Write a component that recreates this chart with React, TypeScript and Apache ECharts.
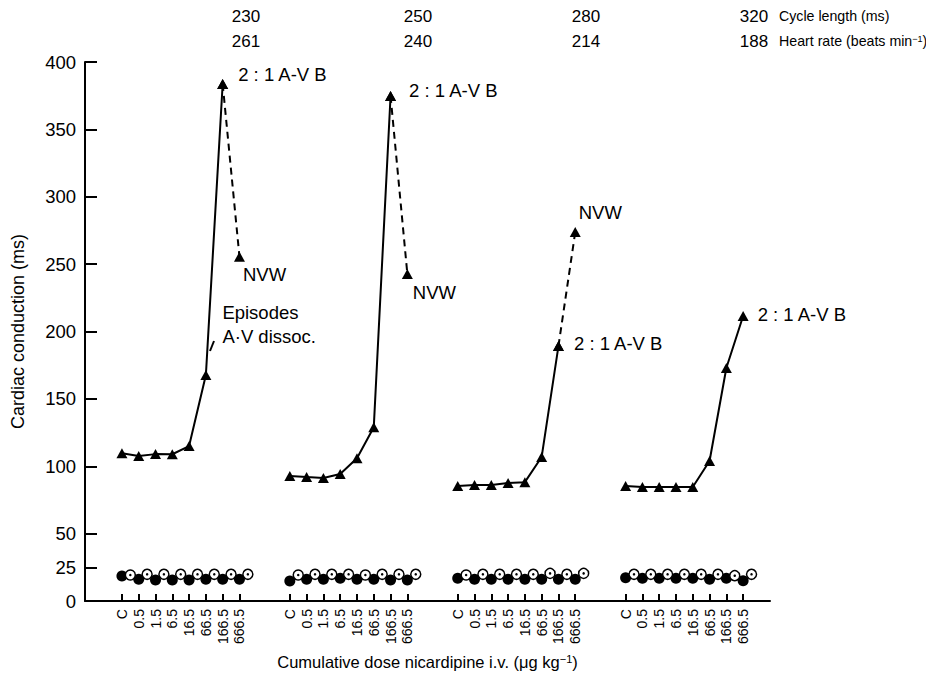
import React, { useEffect, useRef } from "react";
import * as echarts from "echarts";

const DOSES = ["C", "0.5", "1.5", "6.5", "16.5", "66.5", "166.5", "666.5"];
const GROUP_STEP = 10;

const CYCLE_LENGTH = [230, 250, 280, 320];
const HEART_RATE = [261, 240, 214, 188];

// Cardiac conduction (ms), triangles, per cycle-length group
const CONDUCTION_1 = [109.6, 107.6, 109, 108.9, 115, 167.7, 383.7, 255.5];
const CONDUCTION_2 = [92.8, 92, 91.3, 94.2, 106, 129, 374.8, 242.7];
const CONDUCTION_3 = [85.3, 86, 86, 87.5, 88.2, 106.9, 189.2, 273.8];
const CONDUCTION_4 = [85.3, 84.6, 84.6, 84.6, 84.6, 103.9, 172.9, 211.5];
const DASHED_LAST = [true, true, true, false];

// Lower traces: filled and open circles
const FILLED_1 = [18.6, 16.1, 15.6, 15.6, 15.6, 16.1, 16.1, 16.1];
const FILLED_2 = [14.8, 16.1, 16.1, 16.8, 16.1, 16.1, 15.6, 15.6];
const FILLED_3 = [16.8, 16.1, 16.1, 16.1, 16.1, 16.1, 16.1, 16.1];
const FILLED_4 = [17.3, 16.8, 16.8, 16.8, 16.8, 16.1, 16.8, 15.1];
const OPEN_1 = [19.3, 19.8, 19.8, 19.8, 19.8, 19.8, 19.8, 19.8];
const OPEN_2 = [19.3, 19.8, 19.8, 19.8, 19.3, 19.8, 19.8, 19.8];
const OPEN_3 = [19.3, 19.8, 19.8, 19.8, 19.8, 20.5, 19.8, 20.5];
const OPEN_4 = [19.8, 19.8, 19.8, 19.8, 19.8, 19.8, 18.8, 19.8];

const Y_TICKS = [0, 25, 50, 100, 150, 200, 250, 300, 350, 400];

const ANNOT_21 = "2 : 1 A-V B";
const ANNOT_NVW = "NVW";
const ANNOT_EPI = "Episodes\nA·V dissoc.";

const FONT = "'Liberation Sans', Arial, Helvetica, sans-serif";

export default function App() {
  const ref = useRef<HTMLDivElement>(null);

  useEffect(() => {
    document.body.style.margin = "0";
    if (!ref.current) return;
    const chart = echarts.init(ref.current, undefined, { renderer: "svg" });

    const conduction = [CONDUCTION_1, CONDUCTION_2, CONDUCTION_3, CONDUCTION_4];
    const filled = [FILLED_1, FILLED_2, FILLED_3, FILLED_4];
    const open = [OPEN_1, OPEN_2, OPEN_3, OPEN_4];

    const labelCfg: Record<string, any> = {
      "0-6": { text: ANNOT_21, offset: [10, -9] },
      "0-7": { text: ANNOT_NVW, offset: [-2, 18] },
      "0-5": { text: ANNOT_EPI, offset: [11, -51] },
      "1-6": { text: ANNOT_21, offset: [13, -5] },
      "1-7": { text: ANNOT_NVW, offset: [0, 19] },
      "2-6": { text: ANNOT_21, offset: [10, -3] },
      "2-7": { text: ANNOT_NVW, offset: [-2, -20] },
      "3-7": { text: ANNOT_21, offset: [9, -2] },
    };

    const point = (g: number, k: number, v: number) => {
      const cfg = labelCfg[`${g}-${k}`];
      const item: any = { value: [g * GROUP_STEP + k, v] };
      if (cfg) {
        item.label = {
          show: true,
          formatter: cfg.text,
          position: "right",
          distance: 0,
          offset: cfg.offset,
          fontSize: 18.5,
          lineHeight: 24,
          color: "#000",
          fontFamily: FONT,
          align: "left",
        };
      }
      return item;
    };

    const series: any[] = [];
    conduction.forEach((vals, g) => {
      const lastSolid = DASHED_LAST[g] ? 6 : 7;
      const solid = vals.slice(0, lastSolid + 1).map((v, k) => point(g, k, v));
      series.push({
        type: "line",
        data: solid,
        symbol: "triangle",
        symbolSize: [11, 10],
        itemStyle: { color: "#000", opacity: 1 },
        lineStyle: { color: "#000", width: 2 },
        z: 5,
      });
      if (DASHED_LAST[g]) {
        series.push({
          type: "line",
          data: [6, 7].map((k) => (k === 7 ? point(g, k, vals[k]) : { value: [g * GROUP_STEP + k, vals[k]] })),
          symbol: "triangle",
          symbolSize: [11, 10],
          itemStyle: { color: "#000", opacity: 1 },
          lineStyle: { color: "#000", width: 2, type: [7, 5] },
          z: 4,
        });
      }
    });

    const filledData: number[][] = [];
    const openData: number[][] = [];
    filled.forEach((vals, g) => vals.forEach((v, k) => filledData.push([g * GROUP_STEP + k, v])));
    open.forEach((vals, g) => vals.forEach((v, k) => openData.push([g * GROUP_STEP + k + 0.5, v])));

    series.push({
      type: "scatter",
      data: filledData,
      symbol: "circle",
      symbolSize: 11,
      itemStyle: { color: "#000", opacity: 1 },
      z: 6,
    });
    series.push({
      type: "scatter",
      data: openData,
      symbol: "circle",
      symbolSize: 10,
      itemStyle: { color: "#fff", borderColor: "#000", borderWidth: 1.5, opacity: 1 },
      z: 7,
    });
    series.push({
      type: "scatter",
      data: openData,
      symbol: "circle",
      symbolSize: 2.5,
      itemStyle: { color: "#000", opacity: 1 },
      z: 8,
    });

    const tickPositions: number[] = [];
    for (let g = 0; g < 4; g++) for (let k = 0; k < DOSES.length; k++) tickPositions.push(g * GROUP_STEP + k);

    const topX = [246, 418, 586, 754];
    const graphic: any[] = [];
    CYCLE_LENGTH.forEach((c, i) => {
      graphic.push({
        type: "text",
        style: { text: String(c), x: topX[i], y: 16, align: "center", verticalAlign: "middle", font: `17px ${FONT}`, fill: "#000" },
      });
      graphic.push({
        type: "text",
        style: { text: String(HEART_RATE[i]), x: topX[i], y: 41, align: "center", verticalAlign: "middle", font: `17px ${FONT}`, fill: "#000" },
      });
    });
    graphic.push({
      type: "text",
      style: { text: "Cycle length (ms)", x: 779, y: 16, align: "left", verticalAlign: "middle", font: `14.2px ${FONT}`, fill: "#000" },
    });
    graphic.push({
      type: "text",
      style: {
        text: "Heart rate (beats min{sup|−1})",
        x: 779,
        y: 41,
        align: "left",
        verticalAlign: "middle",
        font: `14.2px ${FONT}`,
        fill: "#000",
        rich: { sup: { fontSize: 9, fontFamily: FONT, verticalAlign: "top", fill: "#000" } },
      },
    });
    graphic.push({
      type: "line",
      shape: { x1: 210, y1: 351, x2: 214, y2: 341 },
      style: { stroke: "#000", lineWidth: 2 },
    });

    chart.setOption({
      animation: false,
      backgroundColor: "#fff",
      textStyle: { fontFamily: FONT, color: "#000" },
      grid: { left: 85, top: 62, right: 156, bottom: 85, containLabel: false },
      xAxis: {
        type: "value",
        min: -2.2,
        max: 38.6,
        name: "Cumulative dose nicardipine i.v. (μg kg{sup|−1})",
        nameLocation: "middle",
        nameGap: 52,
        nameTextStyle: {
          fontSize: 16.5,
          color: "#000",
          fontFamily: FONT,
          rich: { sup: { fontSize: 11, verticalAlign: "top", color: "#000", fontFamily: FONT } },
        },
        axisLine: { show: true, onZero: false, lineStyle: { color: "#000", width: 2 } },
        axisTick: { show: true, inside: true, length: 7, customValues: tickPositions, lineStyle: { color: "#000", width: 2 } },
        axisLabel: {
          show: true,
          customValues: tickPositions,
          rotate: 90,
          margin: 8,
          fontSize: 14,
          color: "#000",
          fontFamily: FONT,
          formatter: (v: number) => DOSES[((Math.round(v) % GROUP_STEP) + GROUP_STEP) % GROUP_STEP] ?? "",
        },
        splitLine: { show: false },
      },
      yAxis: {
        type: "value",
        min: 0,
        max: 400,
        name: "Cardiac conduction (ms)",
        nameLocation: "middle",
        nameGap: 58,
        nameTextStyle: { fontSize: 18, color: "#000", fontFamily: FONT },
        axisLine: { show: true, onZero: false, lineStyle: { color: "#000", width: 2 } },
        axisTick: { show: true, inside: true, length: 12, customValues: Y_TICKS, lineStyle: { color: "#000", width: 2 } },
        axisLabel: { show: true, customValues: Y_TICKS, margin: 9, fontSize: 18.5, color: "#000", fontFamily: FONT },
        splitLine: { show: false },
      },
      graphic,
      series,
    });

    return () => chart.dispose();
  }, []);

  return <div ref={ref} style={{ width: 926, height: 686 }} />;
}
